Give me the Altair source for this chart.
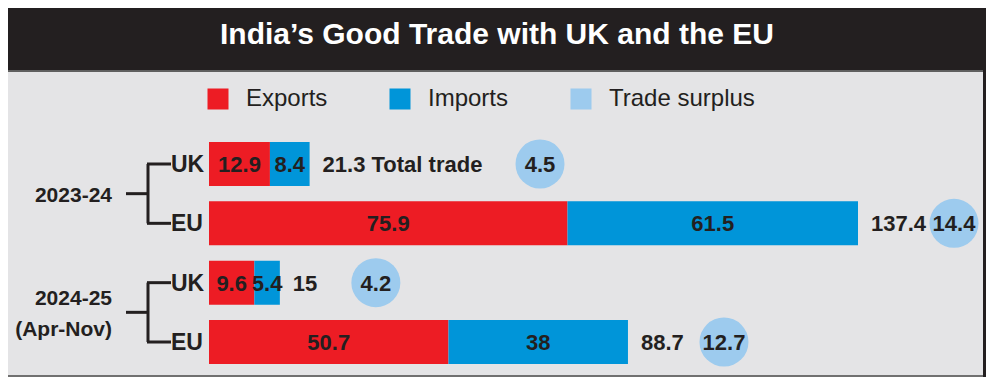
import altair as alt
import pandas as pd

# ---------------- data ----------------
periods = ["2023-24", "2023-24", "2024-25", "2024-25"]
partners = ["UK", "EU", "UK", "EU"]
exports = [12.9, 75.9, 9.6, 50.7]
imports = [8.4, 61.5, 5.4, 38.0]
totals = [21.3, 137.4, 15.0, 88.7]
surplus = [4.5, 14.4, 4.2, 12.7]
total_suffix = [" Total trade", "", "", ""]
period_names = ["2023-24", "2024-25"]
period_lines = [["2023-24"], ["2024-25", "(Apr-Nov)"]]
series = ["Exports", "Imports", "Trade surplus"]
title_text = "India\u2019s Good Trade with UK and the EU"

# ---------------- style ----------------
W, H = 978, 369
RED, BLUE, LIGHT = "#ed1c24", "#0095d9", "#9dcbee"
INK = "#231f20"
BG = "#e4e4e6"
FONT = "'Liberation Sans', Arial, sans-serif"
X_DOMAIN = [0, 137.4]
X_RANGE = [201, 850]
Y_DOMAIN = [0, 3]
Y_RANGE = [156, 334]
PX_PER_UNIT = (X_RANGE[1] - X_RANGE[0]) / (X_DOMAIN[1] - X_DOMAIN[0])
PX_PER_ROW = (Y_RANGE[1] - Y_RANGE[0]) / (Y_DOMAIN[1] - Y_DOMAIN[0])
LINE_H = 31

def fmt(v):
    return f"{v:g}"

rows = pd.DataFrame({
    "period": periods,
    "partner": partners,
    "exports": exports,
    "imports": imports,
    "total": totals,
    "surplus": surplus,
    "suffix": total_suffix,
    "row": list(range(len(periods))),
})
rows["total_label"] = [fmt(t) + s for t, s in zip(totals, total_suffix)]
rows["surplus_label"] = [fmt(s) for s in surplus]
rows["series"] = series[2]

seg = []
for i in range(len(periods)):
    seg.append({"row": i, "series": series[0], "start": 0.0, "end": exports[i],
                "label": fmt(exports[i])})
    seg.append({"row": i, "series": series[1], "start": exports[i],
                "end": exports[i] + imports[i], "label": fmt(imports[i])})
seg = pd.DataFrame(seg)
seg["mid"] = (seg["start"] + seg["end"]) / 2

per, per_text = [], []
for p, lines in zip(period_names, period_lines):
    idx = [i for i, q in enumerate(periods) if q == p]
    ym = (min(idx) + max(idx)) / 2
    per.append({"period": p, "y0": min(idx), "y1": max(idx), "ym": ym})
    n = len(lines)
    for k, line in enumerate(lines):
        per_text.append({"text": line,
                         "y": ym + (k - (n - 1) / 2) * LINE_H / PX_PER_ROW})
per = pd.DataFrame(per)
per_text = pd.DataFrame(per_text)

xs = alt.Scale(domain=X_DOMAIN, range=X_RANGE, padding=0)
ys = alt.Scale(domain=Y_DOMAIN, range=Y_RANGE, padding=0)
cs = alt.Scale(domain=series, range=[RED, BLUE, LIGHT])

# ---------------- frame ----------------
deco = alt.Chart(pd.DataFrame({"k": [0]}))
title_bar = deco.mark_rect(color=INK).encode(
    x=alt.value(0), x2=alt.value(W), y=alt.value(0), y2=alt.value(62))
title_line = deco.mark_rect(color="#5f5f5f").encode(
    x=alt.value(0), x2=alt.value(W), y=alt.value(62), y2=alt.value(64))
right_border = deco.mark_rect(color=INK).encode(
    x=alt.value(W - 3), x2=alt.value(W), y=alt.value(0), y2=alt.value(H))
bottom_border = deco.mark_rect(color="#707070").encode(
    x=alt.value(0), x2=alt.value(W - 3), y=alt.value(H - 2), y2=alt.value(H))
title = alt.Chart(pd.DataFrame({"t": [title_text]})).mark_text(
    font=FONT, fontSize=30, fontWeight="bold", color="white",
    align="center", baseline="middle").encode(
    x=alt.value(489), y=alt.value(27), text="t:N")

# ---------------- bars ----------------
bars = alt.Chart(seg).mark_bar(size=44, orient="horizontal").encode(
    x=alt.X("start:Q", scale=xs, axis=None),
    x2="end:Q",
    y=alt.Y("row:Q", scale=ys, axis=None),
    color=alt.Color("series:N", scale=cs, legend=alt.Legend(
        orient="none", legendX=198, legendY=79, direction="horizontal",
        title=None, symbolType="square", symbolSize=441, symbolStrokeWidth=0,
        symbolOpacity=1, labelFont=FONT, labelFontSize=24, labelColor=INK,
        labelOffset=16, columnPadding=60, padding=0, labelLimit=0)),
)
bar_text = alt.Chart(seg).mark_text(
    font=FONT, fontSize=22, fontWeight="bold", color=INK,
    align="center", baseline="middle", dy=1).encode(
    x=alt.X("mid:Q", scale=xs, axis=None),
    y=alt.Y("row:Q", scale=ys, axis=None),
    text="label:N")

total_text = alt.Chart(rows).mark_text(
    font=FONT, fontSize=22, fontWeight="bold", color=INK,
    align="left", baseline="middle", dx=13, dy=1).encode(
    x=alt.X("total:Q", scale=xs, axis=None),
    y=alt.Y("row:Q", scale=ys, axis=None),
    text="total_label:N")

circ_base = alt.Chart(rows).transform_calculate(
    xc=f"datum.total + (96 + 11.2 * length(datum.suffix)) / {PX_PER_UNIT}")
circles = circ_base.mark_circle(size=2401, opacity=1).encode(
    x=alt.X("xc:Q", scale=xs, axis=None),
    y=alt.Y("row:Q", scale=ys, axis=None),
    color=alt.Color("series:N", scale=cs))
circle_text = circ_base.mark_text(
    font=FONT, fontSize=22, fontWeight="bold", color=INK,
    align="center", baseline="middle", dy=1).encode(
    x=alt.X("xc:Q", scale=xs, axis=None),
    y=alt.Y("row:Q", scale=ys, axis=None),
    text="surplus_label:N")

# ---------------- row labels and brackets ----------------
partner_text = alt.Chart(rows).mark_text(
    font=FONT, fontSize=23, fontWeight="bold", color=INK,
    align="left", baseline="middle", dy=1).encode(
    x=alt.value(163), y=alt.Y("row:Q", scale=ys, axis=None), text="partner:N")

arms = alt.Chart(rows).mark_rule(color=INK, strokeWidth=3).encode(
    x=alt.value(139), x2=alt.value(163), y=alt.Y("row:Q", scale=ys, axis=None))
spine = alt.Chart(per).mark_rule(color=INK, strokeWidth=3).encode(
    x=alt.value(140), y=alt.Y("y0:Q", scale=ys, axis=None), y2="y1:Q")
stub = alt.Chart(per).mark_rule(color=INK, strokeWidth=3).encode(
    x=alt.value(118), x2=alt.value(140), y=alt.Y("ym:Q", scale=ys, axis=None))
period_text = alt.Chart(per_text).mark_text(
    font=FONT, fontSize=21, fontWeight="bold", color=INK,
    align="right", baseline="middle", dy=2).encode(
    x=alt.value(104), y=alt.Y("y:Q", scale=ys, axis=None), text="text:N")

chart = alt.layer(
    title_bar, title_line, right_border, bottom_border, title,
    bars, bar_text, total_text, circles, circle_text,
    arms, spine, stub, partner_text, period_text,
).properties(
    width=W, height=H,
    autosize=alt.AutoSizeParams(type="none"),
    padding=0,
    background=BG,
).configure_view(stroke=None)

chart.save("out.html", embed_options={"renderer": "svg", "actions": False})
